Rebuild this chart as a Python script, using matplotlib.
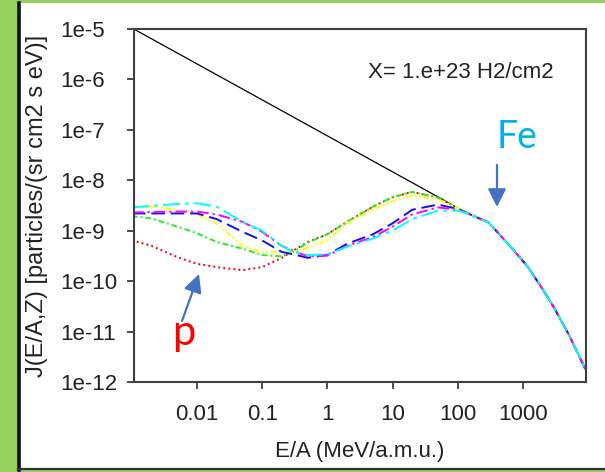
import matplotlib
matplotlib.use("Agg")
import matplotlib.pyplot as plt
from matplotlib.patches import Rectangle
from matplotlib.lines import Line2D

plt.rcParams['font.family'] = ['Liberation Sans', 'DejaVu Sans']

# energies (MeV/a.m.u.) for the low-energy part of each curve
E_low = [1e-3, 2e-3, 5e-3, 0.01, 0.02, 0.05, 0.1, 0.2, 0.3, 0.5, 1, 2, 5, 10, 20, 50, 100]
# common high-energy tail shared by all curves
E_tail = [150, 300, 700, 1200, 2000, 3000, 5000, 1e4]
J_tail = [2.15e-9, 1.45e-9, 4.3e-10, 1.9e-10, 7.0e-11, 3.0e-11, 9.0e-12, 1.4e-12]

J_red = [6.5e-10, 5.0e-10, 3.0e-10, 2.2e-10, 1.9e-10, 1.65e-10, 1.9e-10, 2.9e-10, 4.0e-10,
         6.0e-10, 8.5e-10, 1.5e-9, 3.0e-9, 4.6e-9, 5.9e-9, 4.5e-9, 2.8e-9]
J_green = [1.95e-9, 1.75e-9, 1.2e-9, 8.9e-10, 6.0e-10, 4.4e-10, 3.3e-10, 3.1e-10, 3.8e-10,
           5.8e-10, 8.5e-10, 1.5e-9, 3.0e-9, 4.6e-9, 5.9e-9, 4.5e-9, 2.8e-9]
J_yellow = [3.1e-9, 3.0e-9, 2.6e-9, 2.1e-9, 1.4e-9, 5.0e-10, 3.8e-10, 3.8e-10, 3.8e-10,
            4.6e-10, 6.5e-10, 1.4e-9, 2.6e-9, 3.8e-9, 5.0e-9, 4.2e-9, 2.8e-9]
J_blue = [2.2e-9, 2.2e-9, 2.2e-9, 2.2e-9, 1.7e-9, 9.5e-10, 6.4e-10, 3.8e-10, 3.4e-10,
          2.9e-10, 3.3e-10, 5.5e-10, 8.5e-10, 1.4e-9, 2.6e-9, 3.3e-9, 2.7e-9]
J_magenta = [2.3e-9, 2.35e-9, 2.4e-9, 2.4e-9, 2.1e-9, 1.5e-9, 9.5e-10, 5.0e-10, 4.0e-10,
             3.1e-10, 3.2e-10, 5.0e-10, 7.5e-10, 1.2e-9, 2.1e-9, 2.9e-9, 2.6e-9]
J_cyan = [2.9e-9, 3.1e-9, 3.4e-9, 3.5e-9, 3.0e-9, 1.5e-9, 1.0e-9, 5.0e-10, 3.8e-10,
          3.3e-10, 3.4e-10, 4.8e-10, 7.0e-10, 1.0e-9, 1.7e-9, 2.5e-9, 2.5e-9]

# unmodulated spectrum (straight part, then the common tail)
E_black = [1e-3, 60, 100]
J_black = [1.05e-5, 4.1e-9, 2.8e-9]

xtick_vals = [0.01, 0.1, 1, 10, 100, 1000]
xtick_labels = ['0.01', '0.1', '1', '10', '100', '1000']
ytick_vals = [1e-5, 1e-6, 1e-7, 1e-8, 1e-9, 1e-10, 1e-11, 1e-12]
ytick_labels = ['1e-5', '1e-6', '1e-7', '1e-8', '1e-9', '1e-10', '1e-11', '1e-12']

W, H = 605, 472
fig = plt.figure(figsize=(W / 100, H / 100), dpi=100)
fig.patch.set_facecolor('#94D05A')

# white slide panel with dark left/bottom edge
fig.add_artist(Rectangle((18 / W, 2 / H), 1 - 18 / W, (469 - 2) / H,
                         transform=fig.transFigure, facecolor='white', edgecolor='none', zorder=-10))
fig.add_artist(Line2D([19 / W, 19 / W], [2 / H, (H - 3) / H], transform=fig.transFigure,
                      color='#111111', lw=2.6))
fig.add_artist(Line2D([18 / W, 1], [3 / H, 3 / H], transform=fig.transFigure,
                      color='#333333', lw=1.6))

ax = fig.add_axes([134 / W, 1 - 382 / H, (586 - 134) / W, (382 - 29) / H])
ax.set_facecolor('white')

ax.plot(E_black + E_tail, J_black + J_tail, color='black', lw=0.9)
series = [
    (J_red, '#FF0000', (0, (1, 1.6))),
    (J_green, '#22EE22', (0, (3, 1.5, 1, 1.5))),
    (J_yellow, '#FFFF00', (0, (3, 1.2, 1, 1.2, 1, 1.2))),
    (J_blue, '#1010EE', (0, (7, 3))),
    (J_magenta, '#FF00FF', (0, (6, 2, 1.2, 2))),
    (J_cyan, '#00FFFF', (0, (9, 2.5, 2, 2.5))),
]
for J, c, ls in series:
    ax.plot(E_low + E_tail, J + J_tail, color=c, lw=1.4, linestyle=ls)

ax.set_xscale('log')
ax.set_yscale('log')
ax.set_xlim(1.08e-3, 9.3e3)
ax.set_ylim(1e-12, 1e-5)
ax.set_xticks(xtick_vals, xtick_labels)
ax.set_yticks(ytick_vals, ytick_labels)
ax.minorticks_off()
for s in ax.spines.values():
    s.set_color('#404040')
    s.set_linewidth(1.5)
ax.tick_params(direction='out', length=5, width=1.3, color='#404040',
               labelsize=16, labelcolor='#222222')
ax.tick_params(axis='x', pad=11)
ax.tick_params(axis='y', pad=48)
for lab in ax.get_yticklabels():
    lab.set_horizontalalignment('left')

fig.text(360 / W, 1 - 452 / H, 'E/A (MeV/a.m.u.)', fontsize=16, color='#222222',
         ha='center', va='center')
fig.text(37 / W, 1 - 206 / H, 'J(E/A,Z) [particles/(sr cm2 s eV)]', fontsize=17,
         color='#222222', rotation=90, ha='center', va='center')
fig.text(368 / W, 1 - 72 / H, 'X= 1.e+23 H2/cm2', fontsize=16, color='#222222',
         ha='left', va='center')

fig.text(517 / W, 1 - 148 / H, 'Fe', fontsize=27, color='#00B0F0', family='Lato',
         ha='center', va='baseline')
fig.text(184 / W, 1 - 345 / H, 'p', fontsize=30, color='#FF0000', family='Lato',
         ha='center', va='baseline')

arrow = dict(arrowstyle='-|>,head_length=1.1,head_width=0.55', mutation_scale=10,
             color='#4472C4', lw=1.6, shrinkA=0, shrinkB=0)
ax.annotate('', xy=(497, H - 207), xytext=(497, H - 165), xycoords='figure pixels',
            textcoords='figure pixels', arrowprops=arrow)
ax.annotate('', xy=(199, H - 274), xytext=(182, H - 321), xycoords='figure pixels',
            textcoords='figure pixels', arrowprops=arrow)

fig.savefig('out.png', dpi=100, facecolor=fig.get_facecolor())
